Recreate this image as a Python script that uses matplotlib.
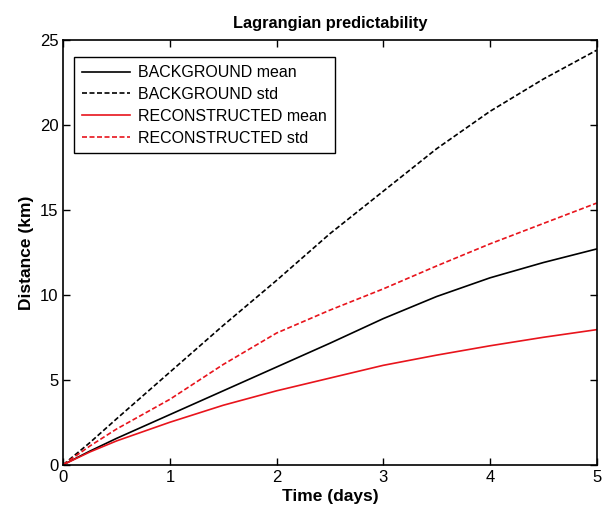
import numpy as np
import matplotlib
matplotlib.use('Agg')
import matplotlib.pyplot as plt

plt.rcParams['font.family'] = ['Liberation Sans', 'DejaVu Sans']

#- Values
time_days = [0, 0.25, 0.5, 1, 1.5, 2, 2.5, 3, 3.5, 4, 4.5, 5]
bg_mean = [0, 0.8, 1.55, 2.95, 4.35, 5.75, 7.15, 8.6, 9.9, 11.0, 11.9, 12.7]
bg_std = [0, 1.3, 2.7, 5.45, 8.2, 10.85, 13.6, 16.1, 18.6, 20.8, 22.7, 24.4]
rec_mean = [0, 0.75, 1.4, 2.5, 3.5, 4.35, 5.1, 5.85, 6.45, 7.0, 7.5, 7.95]
rec_std = [0, 1.1, 2.1, 3.85, 5.9, 7.75, 9.1, 10.35, 11.7, 13.0, 14.2, 15.4]

xticks = [0, 1, 2, 3, 4, 5]
yticks = [0, 5, 10, 15, 20, 25]

fig = plt.figure(figsize=(6.02, 5.11), dpi=100)
ax = fig.add_axes([0.105, 0.0906, 0.886, 0.831])

dash = (0, (3.0, 1.5))
ax.plot(time_days, bg_mean, color='black', lw=1.2, label='BACKGROUND mean')
ax.plot(time_days, bg_std, color='black', lw=1.2, ls=dash, label='BACKGROUND std')
ax.plot(time_days, rec_mean, color='#e8141c', lw=1.2, label='RECONSTRUCTED mean')
ax.plot(time_days, rec_std, color='#e8141c', lw=1.2, ls=dash, label='RECONSTRUCTED std')

ax.set_xlim(0, 5)
ax.set_ylim(0, 25)
ax.set_xticks(xticks)
ax.set_yticks(yticks)
ax.tick_params(direction='in', top=True, right=True, labelsize=12, length=5, width=1, pad=3.5)
for s in ax.spines.values():
    s.set_linewidth(1.2)

ax.set_xlabel('Time (days)', fontsize=12.5, fontweight='bold', labelpad=3)
ax.set_ylabel('Distance (km)', fontsize=12.5, fontweight='bold', labelpad=4)
ax.set_title('Lagrangian predictability', fontsize=11.8, fontweight='bold', pad=9)

leg = ax.legend(loc='upper left', bbox_to_anchor=(0.006, 0.978), fontsize=11.5,
                handlelength=3.0, labelspacing=0.42, handletextpad=0.5,
                borderpad=0.5, fancybox=False, framealpha=1, edgecolor='black')
leg.get_frame().set_linewidth(1.0)

plt.savefig('out.png', dpi=100)
